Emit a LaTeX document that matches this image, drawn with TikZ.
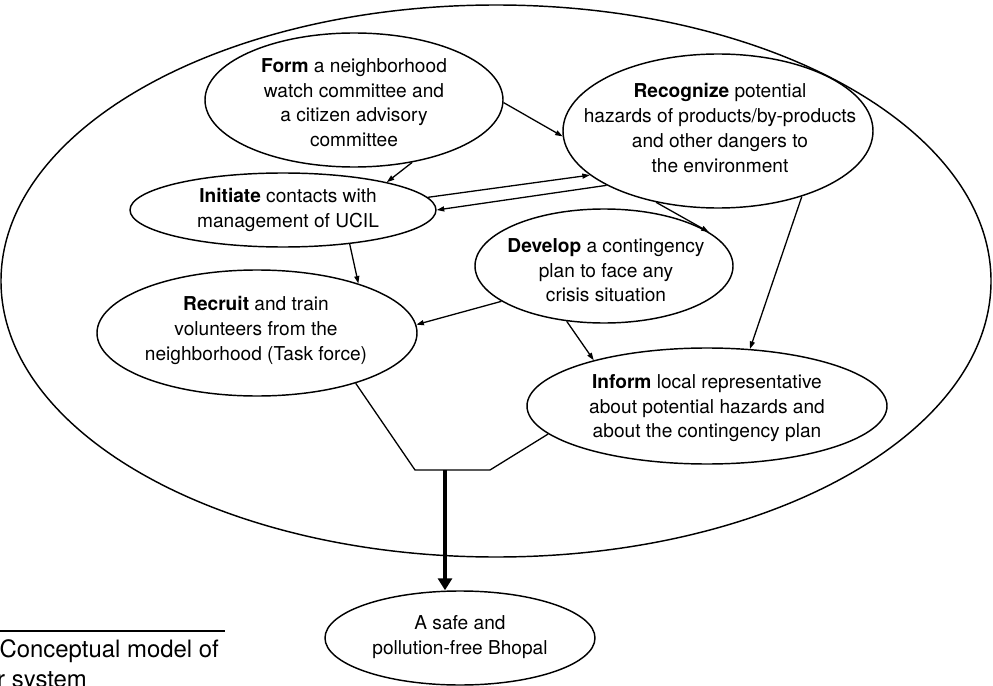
\documentclass[tikz,border=0pt]{standalone}
\usepackage{fontspec}
\setmainfont{TeX Gyre Heros}
\usetikzlibrary{shapes.geometric,arrows.meta}

\begin{document}
\begin{tikzpicture}[
  x=1bp, y=-1bp,
  bubble/.style={draw, ellipse, line width=1.45bp, inner sep=0pt},
  txt/.style={font=\fontsize{19.2}{25}\selectfont, align=center, inner sep=0pt, anchor=north},
  captext/.style={font=\fontsize{24}{29}\selectfont, inner sep=0pt},
  link/.style={line width=1.3bp, -{Triangle[length=7.5bp,width=5bp]}},
  joinline/.style={line width=1.3bp},
  bigarrow/.style={line width=4.5bp, -{Triangle[length=12bp,width=14bp]}}
]
\useasboundingbox (0,0) rectangle (993,686);

% outer boundary of the system
\node[bubble, minimum width=990bp, minimum height=552bp] (frame) at (496,281) {};

% activity ellipses
\node[bubble, minimum width=298bp, minimum height=134bp] (form)    at (354,100) {};
\node[bubble, minimum width=310bp, minimum height=154bp] (recog)   at (718,131) {};
\node[bubble, minimum width=306bp, minimum height=74bp]  (init)    at (283,210) {};
\node[bubble, minimum width=258bp, minimum height=114bp] (dev)     at (604,266) {};
\node[bubble, minimum width=320bp, minimum height=126bp] (recruit) at (257,333) {};
\node[bubble, minimum width=360bp, minimum height=116bp] (inform)  at (707,406) {};
\node[bubble, minimum width=270bp, minimum height=94bp]  (safe)    at (460,638) {};

% texts
\node[txt] (formtxt) at (354,58) {\textbf{Form} a neighborhood\\watch committee and\\a citizen advisory\\committee};
\node[txt] (recogtxt) at (720,83) {\textbf{Recognize} potential\\hazards of products/by-products\\and other dangers to\\the environment};
\node[txt] (inittxt) at (288,188) {\textbf{Initiate} contacts with\\management of UCIL};
\node[txt] (devtxt) at (606,238) {\textbf{Develop} a contingency\\plan to face any\\crisis situation};
\node[txt] (recruittxt) at (256,296) {\textbf{Recruit} and train\\volunteers from the\\neighborhood (Task force)};
\node[txt] (informtxt) at (707,374) {\textbf{Inform} local representative\\about potential hazards and\\about the contingency plan};
\node[txt] (safetxt) at (460,615) {A safe and\\pollution-free Bhopal};

% links between activities
\draw[link] (form.-1) -- (recog.-178);
\draw[link] (form.-47) -- (init.15);
\draw[link] (init.5) -- (recog.-161.6);
\draw[link] (recog.-154.4) -- (init.0.5);
\draw[link] (recog.-131.6) -- (dev.18.9);
\draw[link] (init.-27) -- (recruit.26.8);
\draw[link] (dev.-161.6) -- (recruit.3.9);
\draw[link] (dev.-124.4) -- (inform.158);
\draw[link] (recog.-38.6) -- (inform.53.3);

% merging lines and the outcome
\coordinate (jl) at (415,470);
\coordinate (jr) at (490,470);
\coordinate (jm) at (445,470);
\draw[joinline] (recruit.-27.5) -- (jl) -- (jr) -- (inform.190);
\draw[bigarrow] (jm) -- (jm |- safe.north);

% caption
\draw[line width=1.3bp] (0,631) coordinate (rulel) -- (225,631) coordinate (ruler);
\node[captext, anchor=base east] (capa) at (219,657) {Conceptual model of};
\node[captext, anchor=base west] (capb) at (-3,687) {r system};
\end{tikzpicture}
\end{document}
